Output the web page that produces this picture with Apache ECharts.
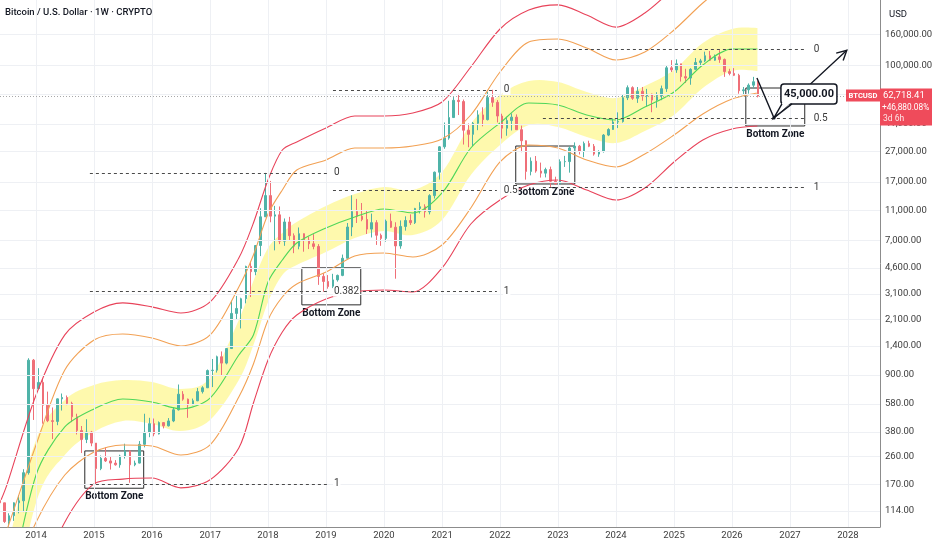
<!DOCTYPE html>
<html><head><meta charset="utf-8">
<script src="https://cdn.jsdelivr.net/npm/echarts@6/dist/echarts.min.js"></script>
<style>html,body{margin:0;padding:0;background:#fff}#c{width:932px;height:550px}</style>
</head><body><div id="c"></div>
<script>
const FONT = 'Roboto, "Noto Sans", sans-serif';

// ---- Monthly candles [open, high, low, close], first candle = May 2013 ----
const candleStart = [2013, 5];
const candles = [
  // 2013 May-Dec
  [133.5,139,92,129],[129,129,95,97],[97,110,90,106],[106,130,98,129],[129,145,110,133],[133,215,112,204],[204,1163,198,1130],[1130,1150,455,732],
  // 2014
  [732,1000,740,805],[805,850,430,570],[570,700,440,450],[450,550,340,445],[445,630,420,627],[627,680,525,640],[640,660,570,585],[585,600,440,478],[478,500,365,387],[387,415,275,338],[338,460,320,378],[378,385,305,320],
  // 2015
  [320,320,172,217],[217,265,212,254],[254,300,240,244],[244,261,214,236],[236,247,227,230],[230,268,220,263],[263,317,253,284],[284,285,175,230],[230,245,225,236],[236,330,235,314],[314,500,300,377],[377,470,350,430],
  // 2016
  [430,465,355,368],[368,445,365,437],[437,440,400,416],[416,468,412,448],[448,550,440,531],[531,780,525,673],[673,705,610,624],[624,630,470,573],[573,630,570,609],[609,740,605,700],[700,760,680,742],[742,980,740,964],
  // 2017
  [964,1150,750,970],[970,1210,935,1190],[1190,1290,890,1080],[1080,1350,1060,1348],[1348,2790,1345,2300],[2300,3000,2100,2480],[2480,2920,1830,2875],[2875,4750,2680,4700],[4700,5000,2950,4340],[4340,6470,4110,6460],[6460,11400,5500,10000],[10000,19500,10900,13800],
  // 2018
  [13800,17250,9200,10100],[10100,11800,6000,10300],[10300,11700,6600,6900],[6900,9750,6430,9240],[9240,9990,7030,7500],[7500,7770,5750,6390],[6390,8500,6100,7730],[7730,7760,5880,7010],[7010,7400,6120,6630],[6630,7680,6100,6370],[6370,6600,3550,4040],[4040,4240,3200,3740],
  // 2019
  [3740,4120,3350,3460],[3460,4200,3380,3830],[3830,4150,3730,4100],[4100,5630,4050,5320],[5320,9100,5320,8560],[8560,13880,7450,10820],[10820,13130,9100,10080],[10080,12330,9350,9600],[9600,10930,7700,8290],[8290,10500,7300,9150],[9150,9500,6520,7550],[7550,7750,6430,7200],
  // 2020
  [7200,9580,6850,9350],[9350,10500,8450,8530],[8530,9200,3900,6420],[6420,9460,6150,8630],[8630,10070,8100,9450],[9450,10380,8830,9140],[9140,11450,8960,11350],[11350,12480,10520,11650],[11650,12090,9880,10780],[10780,14100,10370,13800],[13800,19900,13200,19700],[19700,29300,17600,28990],
  // 2021
  [28990,41950,28130,33100],[33100,58350,32300,45240],[45240,61790,45000,58800],[58800,64860,47000,57700],[57700,59500,30000,37300],[37300,41330,28800,35040],[35040,42300,29280,41460],[41460,50500,37330,47100],[47100,52900,39600,43820],[43820,67000,43300,61300],[61300,69000,53250,57000],[57000,59050,42000,46300],
  // 2022
  [46300,47950,32900,38480],[38480,45800,34300,43190],[43190,48200,37150,45530],[45530,47450,37600,37630],[37630,40000,26700,31800],[31800,31950,17600,19940],[19940,24670,18780,23300],[23300,25200,19550,20050],[20050,22800,18150,19420],[19420,21100,18200,20500],[20500,21450,15500,17160],[17160,18400,16260,16540],
  // 2023
  [16540,23950,16500,23140],[23140,25250,21350,23150],[23150,29200,19570,28480],[28480,31000,26950,29270],[29270,29820,25800,27220],[27220,31400,24750,30480],[30480,31800,28850,29230],[29230,30250,25350,25940],[25940,27500,24900,26970],[26970,35200,26550,34650],[34650,38450,34100,37720],[37720,44700,37600,42280],
  // 2024
  [42280,48970,38550,42580],[42580,64000,41880,61130],[61130,73750,59000,71300],[71300,72750,59200,60640],[60640,71950,56550,67500],[67500,72000,58400,62700],[62700,70000,53500,64600],[64600,65100,49050,58970],[58970,66500,52550,63300],[63300,73600,58900,70200],[70200,99800,66800,96400],[96400,108300,90500,93400],
  // 2025
  [93400,109500,89300,102400],[102400,102500,78200,84300],[84300,95000,76600,82500],[82500,95800,74500,94200],[94200,111900,93400,104600],[104600,110500,98200,107100],[107100,123200,105100,115800],[115800,124500,107300,108200],[108200,117900,107200,114000],[114000,126000,104000,109500],[109500,111000,84000,91000],[91000,95000,86000,88500],
  // 2026 Jan-Jun
  [88500,96000,85000,86000],[86000,88000,65000,68000],[68000,72000,64500,69000],[69000,76000,65000,74000],[74000,84000,71000,78000],[78000,79000,61500,62718.41]
];

// ---- Band curves, sampled at these dates ----
const bandDates = ['2013-05-26','2013-07-01','2014-01-01','2014-07-01','2015-01-01','2015-07-01','2016-01-01','2016-07-01','2017-01-01','2017-07-01','2017-10-01','2018-01-01','2018-04-01','2018-07-01','2019-01-01','2019-07-01','2020-01-01','2020-07-01','2021-01-01','2021-07-01','2022-01-01','2022-07-01','2023-01-01','2023-07-01','2024-01-01','2024-07-01','2025-01-01','2025-07-01','2026-01-01','2026-06-10'];
const redUpper     = [135,169,665,1660,2350,2700,2540,2315,2740,5346,9100,17504,27620,31200,38600,46300,46300,48500,57300,97600,174000,232000,251000,215000,179000,222000,324000,460000,624000,784000];
const orangeUpper  = [68,85,311,973,1536,1682,1583,1402,1657,3437,5595,10435,15032,20379,23723,28472,28472,29352,32650,47035,90453,142750,149400,130300,108570,122610,171330,258340,366500,460400];
const yellowTop    = [43,63,335,616,774,835,810,729,861,2081,3766,6222,7816,9240,11785,14146,15734,15032,19768,41018,63754,78880,77690,66731,60909,73100,93248,140600,173970,176620];
const greenMid     = [16,27,197,409,538,626,598,538,635,1222,1657,3709,5186,6713,8435,9971,11259,10596,14362,28472,41645,56454,54762,47035,43589,53118,66731,100614,128340,128340];
const yellowBottom = [8.7,16,129,267,379,448,428,385,455,835,1423,2737,4127,4806,5856,7245,8058,7583,9525,18886,29802,40398,39189,33664,30725,36874,47035,70917,91842,91842];
const orangeLower  = [21.7,32,96,197,279,311,306,267,311,645,1066,2081,2953,3598,4319,5511,5768,5428,6513,11432,23014,29802,28472,23723,21326,25989,34702,47755,59990,65725];
const redLower     = [6.4,8.7,34,96,172,185,188,162,183,297,589,1133,1734,2245,2865,3187,3285,3187,4592,8963,12914,16221,17504,15032,12914,15496,23014,32163,38011,39790];

// ---- Axes ----
const yTicks = [114,170,260,380,580,900,1400,2100,3100,4600,7000,11000,17000,27000,41000,64000,100000,160000];
const yearTicks = [2014,2015,2016,2017,2018,2019,2020,2021,2022,2023,2024,2025,2026,2027,2028];
const xRange = ['2013-05-19','2028-07-21'];
const yRange = [89.3, 270400];

// ---- Fibonacci annotations: [start, end] and levels ----
const fib1Span = ['2014-12-06','2019-01-07'];
const fib1Labels = ['0','0.382','1'];
const fib1Values = [19500,3200,172];
const fib2Span = ['2019-02-14','2021-12-12'];
const fib2Labels = ['0','0.5','1'];
const fib2Values = [69000,14860,3200];
const fib3Span = ['2022-09-28','2027-04-16'];
const fib3Labels = ['0','0.5','1'];
const fib3Values = [127000,44500,15600];

// ---- Bottom Zone boxes ----
const boxStarts  = ['2014-11-04','2018-08-02','2022-04-10','2026-03-29'];
const boxEnds    = ['2015-11-10','2019-08-08','2023-04-17','2027-04-04'];
const boxTops    = [284,4600,29340,70900];
const boxBottoms = [161,2620,16470,39800];

// ---- Projection arrow and callout ----
const arrowDates  = ['2026-06-07','2026-09-22','2027-12-25'];
const arrowValues = [82600,45000,126000];

function ts(s){const p=s.split('-').map(Number);return Date.UTC(p[0],(p[1]||1)-1,p[2]||1);}
function fmt2(v){const parts=Math.abs(v).toFixed(2).split('.');return (v<0?'-':'')+parts[0].replace(/\B(?=(\d{3})+(?!\d))/g,',')+'.'+parts[1];}
function crPath(pts, cmd){
  let d = cmd + pts[0][0].toFixed(2) + ',' + pts[0][1].toFixed(2);
  const n = pts.length;
  for (let i=0;i<n-1;i++){
    const p0=pts[Math.max(i-1,0)], p1=pts[i], p2=pts[i+1], p3=pts[Math.min(i+2,n-1)];
    const c1=[p1[0]+(p2[0]-p0[0])/6, p1[1]+(p2[1]-p0[1])/6];
    const c2=[p2[0]-(p3[0]-p1[0])/6, p2[1]-(p3[1]-p1[1])/6];
    d += 'C'+c1[0].toFixed(2)+','+c1[1].toFixed(2)+','+c2[0].toFixed(2)+','+c2[1].toFixed(2)+','+p2[0].toFixed(2)+','+p2[1].toFixed(2);
  }
  return d;
}

const candleData = candles.map((c,i)=>[Date.UTC(candleStart[0], candleStart[1]-1+i, 15), c[0], c[3], c[2], c[1]]);
const lastClose = candles[candles.length-1][3];
const firstOpen = candles[0][0];
const pctChange = (lastClose/firstOpen - 1)*100;

function lineSeries(vals, color){
  return {type:'line', z:3, smooth:0.3, symbol:'none', silent:true, animation:false,
    lineStyle:{color:color, width:1.1}, data: bandDates.map((d,i)=>[ts(d), vals[i]])};
}

const dash = {type:[3,3], color:'#4a4a4a', width:1};
function fibLines(span, labels, values){
  return values.map((v,i)=>[
    {name:labels[i], coord:[ts(span[0]), v]},
    {coord:[ts(span[1]), v]}
  ]);
}
const fibData = [].concat(fibLines(fib2Span,fib2Labels,fib2Values), fibLines(fib3Span,fib3Labels,fib3Values), fibLines(fib1Span,fib1Labels,fib1Values));

const chart = echarts.init(document.getElementById('c'), null, {renderer:'canvas'});
const option = {
  animation:false,
  useUTC:true,
  backgroundColor:'#ffffff',
  title:{text:'Bitcoin / U.S. Dollar · 1W · CRYPTO', left:0, top:3, padding:[5,5],
    textStyle:{fontSize:9.5, fontWeight:500, color:'#131722', fontFamily:FONT}},
  grid:{left:0, right:52, top:0, bottom:23, containLabel:false},
  xAxis:{type:'time', min:ts(xRange[0]), max:ts(xRange[1]),
    axisLine:{show:true, lineStyle:{color:'#8c8c8c', width:1}},
    axisTick:{show:false}, axisLabel:{show:false}, splitLine:{show:false}},
  yAxis:{type:'log', logBase:10, position:'right', min:yRange[0], max:yRange[1],
    axisLine:{show:true, lineStyle:{color:'#8c8c8c', width:1}},
    axisTick:{show:false}, axisLabel:{show:false}, splitLine:{show:false}},
  series:[
    // y gridlines + labels on the log scale
    {type:'line', z:0, data:[], silent:true,
      markLine:{silent:true, animation:false, symbol:['none','none'],
        lineStyle:{color:'#eef0f4', width:1, type:'solid'},
        label:{position:'end', distance:5, color:'#3c3c3c', fontSize:9.5, fontFamily:FONT},
        data: yTicks.map(v=>({yAxis:v, label:{formatter:fmt2(v)}}))}},
    // x gridlines + year labels on the time scale
    {type:'line', z:0, data:[], silent:true,
      markLine:{silent:true, animation:false, symbol:['none','none'],
        lineStyle:{color:'#eef0f4', width:1, type:'solid'},
        label:{position:'start', distance:4, color:'#3c3c3c', fontSize:9.5, fontFamily:FONT},
        data: yearTicks.map(y=>({xAxis:Date.UTC(y,0,1), label:{formatter:String(y)}}))}},
    // yellow band
    {type:'custom', z:1, clip:true, silent:true, animation:false,
      data:[[ts(bandDates[0]), yellowTop[0]]], encode:{x:0,y:1},
      renderItem:(p,api)=>{
        const top = bandDates.map((d,i)=>api.coord([ts(d), yellowTop[i]]));
        const bot = bandDates.map((d,i)=>api.coord([ts(d), yellowBottom[i]])).reverse();
        const d = crPath(top,'M') + crPath(bot,'L') + 'Z';
        return {type:'path', shape:{pathData:d}, style:{fill:'rgba(253,240,60,0.42)'}};
      }},
    // candles
    {type:'candlestick', z:2, silent:true, animation:false, barWidth:2,
      encode:{x:0, y:[1,2,3,4]}, data:candleData,
      itemStyle:{color:'#4fb3a8', color0:'#ef6f78', borderColor:'#4fb3a8', borderColor0:'#ef6f78', borderWidth:1}},
    lineSeries(redUpper,'#e8435a'),
    lineSeries(orangeUpper,'#f2a154'),
    lineSeries(greenMid,'#4fd65a'),
    lineSeries(orangeLower,'#f2a154'),
    lineSeries(redLower,'#e8435a'),
    // annotations: fib levels, price line, bottom zones
    {type:'line', z:4, data:[], silent:true,
      markLine:{silent:true, animation:false, symbol:['none','none'],
        lineStyle:dash,
        label:{position:'end', distance:6, color:'#3a3a3a', fontSize:10, fontFamily:FONT, formatter:'{b}', backgroundColor:'#ffffff', padding:[0,1]},
        data: fibData.concat([{yAxis:lastClose, lineStyle:{type:[1,2], color:'#a8a8a8', width:1}, label:{show:false}}])},
      markArea:{silent:true, animation:false,
        itemStyle:{color:'rgba(0,0,0,0)', borderColor:'#2a2a2a', borderWidth:1},
        label:{show:true, position:'bottom', distance:3, color:'#131722', fontWeight:'bold', fontSize:10, fontFamily:FONT},
        data: boxStarts.map((s,i)=>[{name:'Bottom Zone', coord:[ts(s), boxTops[i]]},{coord:[ts(boxEnds[i]), boxBottoms[i]]}])}},
    // arrow + callout
    {type:'custom', z:5, clip:false, silent:true, animation:false,
      data:[[ts(arrowDates[1]), arrowValues[1]]], encode:{x:0,y:1},
      renderItem:(p,api)=>{
        const pts = arrowDates.map((d,i)=>api.coord([ts(d), arrowValues[i]]));
        const B = pts[1], C = pts[2];
        const ang = Math.atan2(C[1]-B[1], C[0]-B[0]);
        const L = 11, w = Math.PI/6.5;
        const h1 = [C[0]-L*Math.cos(ang-w), C[1]-L*Math.sin(ang-w)];
        const h2 = [C[0]-L*Math.cos(ang+w), C[1]-L*Math.sin(ang+w)];
        const bx = B[0]+7, by = B[1]-34;
        const ink = '#131722';
        return {type:'group', children:[
          {type:'polyline', shape:{points:pts}, style:{stroke:ink, lineWidth:1.4, fill:null}},
          {type:'polyline', shape:{points:[h1,C,h2]}, style:{stroke:ink, lineWidth:1.4, fill:null}},
          {type:'rect', shape:{x:bx, y:by, width:56, height:20, r:3}, style:{fill:'#fff', stroke:ink, lineWidth:1.5}},
          {type:'polygon', shape:{points:[[B[0]+8.6,B[1]-15.6],[B[0]+17.4,B[1]-15.6],[B[0]+1,B[1]-1]]}, style:{fill:'#fff'}},
          {type:'polyline', shape:{points:[[B[0]+8,B[1]-14],[B[0],B[1]],[B[0]+18,B[1]-14]]}, style:{stroke:ink, lineWidth:1.4, fill:null}},
          {type:'circle', shape:{cx:B[0], cy:B[1], r:1.7}, style:{fill:ink}},
          {type:'text', x:bx+28, y:by+10.5, style:{text:fmt2(arrowValues[1]), fill:ink, font:'bold 11px '+FONT, align:'center', verticalAlign:'middle'}}
        ]};
      }}
  ]
};
chart.setOption(option);

// price tag on the axis, positioned through the y scale
const py = chart.convertToPixel({yAxisIndex:0}, lastClose);
const gx = chart.convertToPixel({xAxisIndex:0}, ts(xRange[1]));
const red = '#ef4b5b';
chart.setOption({graphic:[
  {type:'text', id:'usd', x:gx+9, y:15, z:100, style:{text:'USD', fill:'#131722', font:'9.5px '+FONT, verticalAlign:'middle'}},
  {type:'rect', id:'tag', z:100, shape:{x:gx-34, y:py-6.5, width:34, height:12}, style:{fill:red}},
  {type:'text', id:'tagt', z:101, x:gx-17, y:py, style:{text:'BTCUSD', fill:'#fff', font:'bold 7.6px '+FONT, align:'center', verticalAlign:'middle'}},
  {type:'rect', id:'pbox', z:100, shape:{x:gx, y:py-7.5, width:52, height:37}, style:{fill:red}},
  {type:'text', id:'p1', z:101, x:gx+3, y:py, style:{text:fmt2(lastClose), fill:'#fff', font:'9.5px '+FONT, verticalAlign:'middle'}},
  {type:'text', id:'p2', z:101, x:gx+2, y:py+11.5, style:{text:'+'+fmt2(pctChange)+'%', fill:'#fff', font:'8.3px '+FONT, verticalAlign:'middle'}},
  {type:'text', id:'p3', z:101, x:gx+3, y:py+23, style:{text:'3d 6h', fill:'rgba(255,255,255,0.85)', font:'8.5px '+FONT, verticalAlign:'middle'}}
]});
</script>
</body></html>
